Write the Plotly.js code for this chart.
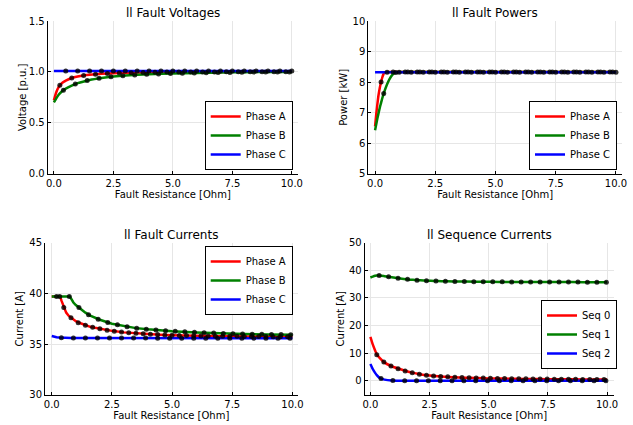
<!DOCTYPE html>
<html><head><meta charset="utf-8">
<script src="https://cdn.plot.ly/plotly-3.0.1.min.js"></script>
<style>html,body{margin:0;padding:0;background:#fff;}#chart{width:633px;height:425px;}</style>
</head><body><div id="chart"></div>
<script>
// ---------- Data ----------
const xTickVals = [0, 2.5, 5, 7.5, 10];
const xTickText = ['0.0', '2.5', '5.0', '7.5', '10.0'];

// Voltages
const vX = [0, 0.1, 0.2, 0.3, 0.4, 0.5, 0.75, 1, 1.25, 1.5, 2, 2.5, 3, 4, 5, 6, 7, 8, 9, 10];
const vA = [0.72, 0.80, 0.85, 0.88, 0.90, 0.915, 0.94, 0.955, 0.965, 0.972, 0.981, 0.987, 0.991, 0.995, 0.998, 1.0, 1.0, 1.001, 1.001, 1.002];
const vB = [0.70, 0.74, 0.775, 0.80, 0.82, 0.835, 0.865, 0.89, 0.905, 0.92, 0.94, 0.955, 0.965, 0.977, 0.985, 0.99, 0.994, 0.997, 0.999, 1.0];
const vC = [1.01, 1.01, 1.01, 1.01, 1.01, 1.01, 1.01, 1.01, 1.01, 1.01, 1.01, 1.01, 1.01, 1.01, 1.01, 1.01, 1.01, 1.01, 1.01, 1.01];
const vAmX = [0.25, 0.75, 1.25, 1.75, 2.25, 2.75, 3.25, 3.75, 4.25, 4.75, 5.25, 5.75, 6.25, 6.75, 7.25, 7.75, 8.25, 8.75, 9.25, 9.75];
const vAmY = [0.87, 0.94, 0.965, 0.978, 0.984, 0.989, 0.992, 0.994, 0.996, 0.998, 0.999, 1.0, 1.0, 1.0, 1.001, 1.001, 1.001, 1.002, 1.002, 1.002];
const vBmX = [0.4, 0.9, 1.4, 1.9, 2.4, 2.9, 3.4, 3.9, 4.4, 4.9, 5.4, 5.9, 6.4, 6.9, 7.4, 7.9, 8.4, 8.9, 9.4, 9.9];
const vBmY = [0.82, 0.88, 0.915, 0.937, 0.952, 0.962, 0.97, 0.976, 0.98, 0.984, 0.987, 0.99, 0.992, 0.994, 0.995, 0.997, 0.998, 0.999, 1.0, 1.0];
const vCmX = [0.5, 1, 1.5, 2, 2.5, 3, 3.5, 4, 4.5, 5, 5.5, 6, 6.5, 7, 7.5, 8, 8.5, 9, 9.5, 10];
const vCmY = [1.01, 1.01, 1.01, 1.01, 1.01, 1.01, 1.01, 1.01, 1.01, 1.01, 1.01, 1.01, 1.01, 1.01, 1.01, 1.01, 1.01, 1.01, 1.01, 1.01];

// Powers
const pX = [0, 0.05, 0.1, 0.15, 0.2, 0.25, 0.3, 0.35, 0.4, 0.5, 0.6, 0.7, 0.8, 0.9, 1.0, 2, 3, 4, 5, 6, 7, 8, 9, 10];
const pA = [6.55, 6.95, 7.3, 7.6, 7.82, 8.0, 8.15, 8.26, 8.32, 8.33, 8.33, 8.33, 8.33, 8.33, 8.33, 8.33, 8.33, 8.33, 8.33, 8.33, 8.33, 8.33, 8.33, 8.33];
const pB = [6.42, 6.62, 6.82, 7.0, 7.17, 7.32, 7.47, 7.6, 7.72, 7.93, 8.1, 8.22, 8.29, 8.32, 8.33, 8.33, 8.33, 8.33, 8.33, 8.33, 8.33, 8.33, 8.33, 8.33];
const pC = [8.32, 8.32, 8.32, 8.32, 8.32, 8.32, 8.32, 8.32, 8.32, 8.32, 8.32, 8.32, 8.32, 8.32, 8.32, 8.32, 8.32, 8.32, 8.32, 8.32, 8.32, 8.32, 8.32, 8.32];
const pAmX = [0.25, 0.75, 1.25, 1.75, 2.25, 2.75, 3.25, 3.75, 4.25, 4.75, 5.25, 5.75, 6.25, 6.75, 7.25, 7.75, 8.25, 8.75, 9.25, 9.75];
const pAmY = [8.0, 8.33, 8.33, 8.33, 8.33, 8.33, 8.33, 8.33, 8.33, 8.33, 8.33, 8.33, 8.33, 8.33, 8.33, 8.33, 8.33, 8.33, 8.33, 8.33];
const pBmX = [0.36, 0.86, 1.36, 1.86, 2.36, 2.86, 3.36, 3.86, 4.36, 4.86, 5.36, 5.86, 6.36, 6.86, 7.36, 7.86, 8.36, 8.86, 9.36, 9.86];
const pBmY = [7.63, 8.31, 8.33, 8.33, 8.33, 8.33, 8.33, 8.33, 8.33, 8.33, 8.33, 8.33, 8.33, 8.33, 8.33, 8.33, 8.33, 8.33, 8.33, 8.33];
const pCmX = [0.5, 1, 1.5, 2, 2.5, 3, 3.5, 4, 4.5, 5, 5.5, 6, 6.5, 7, 7.5, 8, 8.5, 9, 9.5, 10];
const pCmY = [8.32, 8.32, 8.32, 8.32, 8.32, 8.32, 8.32, 8.32, 8.32, 8.32, 8.32, 8.32, 8.32, 8.32, 8.32, 8.32, 8.32, 8.32, 8.32, 8.32];

// Currents
const cX = [0, 0.1, 0.2, 0.3, 0.35, 0.4, 0.5, 0.6, 0.7, 0.75, 0.8, 0.9, 1.0, 1.2, 1.4, 1.6, 1.8, 2.0, 2.5, 3, 3.5, 4, 4.5, 5, 6, 7, 8, 9, 10];
const cA = [39.7, 39.7, 39.7, 39.7, 39.7, 39.3, 38.6, 38.1, 37.8, 37.7, 37.6, 37.4, 37.25, 37.05, 36.85, 36.7, 36.6, 36.5, 36.3, 36.15, 36.05, 35.98, 35.92, 35.87, 35.8, 35.77, 35.75, 35.73, 35.72];
const cB = [39.7, 39.7, 39.7, 39.7, 39.7, 39.7, 39.7, 39.7, 39.7, 39.7, 39.5, 39.1, 38.85, 38.45, 38.1, 37.8, 37.6, 37.4, 37.0, 36.75, 36.57, 36.45, 36.35, 36.27, 36.15, 36.05, 35.99, 35.95, 35.92];
const cC = [35.8, 35.72, 35.67, 35.64, 35.63, 35.62, 35.61, 35.6, 35.6, 35.6, 35.6, 35.6, 35.6, 35.6, 35.6, 35.6, 35.6, 35.59, 35.59, 35.59, 35.59, 35.58, 35.58, 35.58, 35.58, 35.57, 35.57, 35.57, 35.57];
const cAmX = [0.2, 0.5, 0.8, 1.1, 1.4, 1.7, 2.0, 2.3, 2.6, 2.9, 3.2, 3.5, 3.8, 4.1, 4.4, 4.7, 5.0, 5.3, 5.6, 5.9, 6.2, 6.5, 6.8, 7.1, 7.4, 7.7, 8.0, 8.3, 8.6, 8.9, 9.2, 9.5, 9.8];
const cAmY = [39.7, 38.6, 37.6, 37.1, 36.85, 36.65, 36.5, 36.37, 36.27, 36.18, 36.12, 36.06, 36.01, 35.97, 35.93, 35.9, 35.87, 35.85, 35.83, 35.81, 35.8, 35.79, 35.78, 35.77, 35.76, 35.76, 35.75, 35.75, 35.74, 35.74, 35.73, 35.73, 35.72];
const cBmX = [0.33, 0.73, 1.13, 1.53, 1.93, 2.33, 2.73, 3.13, 3.53, 3.93, 4.33, 4.73, 5.13, 5.53, 5.93, 6.33, 6.73, 7.13, 7.53, 7.93, 8.33, 8.73, 9.13, 9.53, 9.93];
const cBmY = [39.7, 39.7, 38.6, 37.9, 37.45, 37.13, 36.9, 36.7, 36.56, 36.46, 36.38, 36.31, 36.25, 36.2, 36.16, 36.12, 36.08, 36.04, 36.01, 35.99, 35.97, 35.96, 35.95, 35.93, 35.92];
const cCmX = [0.4, 0.9, 1.4, 1.9, 2.4, 2.9, 3.4, 3.9, 4.4, 4.9, 5.4, 5.9, 6.4, 6.9, 7.4, 7.9, 8.4, 8.9, 9.4, 9.9];
const cCmY = [35.62, 35.6, 35.6, 35.6, 35.59, 35.59, 35.59, 35.59, 35.58, 35.58, 35.58, 35.58, 35.58, 35.58, 35.57, 35.57, 35.57, 35.57, 35.57, 35.57];

// Sequence currents
const sX = [0, 0.1, 0.2, 0.27, 0.4, 0.6, 0.9, 1.2, 1.5, 1.8, 2.1, 2.4, 2.7, 3, 3.5, 4, 5, 6, 7, 8, 9, 10];
const s0 = [15.9, 13.2, 11.0, 9.6, 8.2, 6.6, 5.3, 4.4, 3.6, 2.9, 2.4, 2.0, 1.75, 1.55, 1.3, 1.12, 0.9, 0.75, 0.65, 0.58, 0.52, 0.48];
const s1 = [37.4, 37.75, 38.05, 38.15, 38.15, 37.9, 37.5, 37.1, 36.8, 36.55, 36.4, 36.27, 36.15, 36.08, 36.0, 35.95, 35.85, 35.8, 35.77, 35.75, 35.73, 35.72];
const s2 = [6.1, 4.3, 2.9, 2.1, 1.0, 0.45, 0.12, 0.05, 0.03, 0.02, 0.02, 0.02, 0.01, 0.01, 0.01, 0.01, 0.01, 0.01, 0.01, 0.01, 0.01, 0.01];
const s0mX = [0.27, 0.57, 0.87, 1.17, 1.47, 1.77, 2.07, 2.37, 2.67, 2.97, 3.27, 3.57, 3.87, 4.17, 4.47, 4.77, 5.07, 5.37, 5.67, 5.97, 6.27, 6.57, 6.87, 7.17, 7.47, 7.77, 8.07, 8.37, 8.67, 8.97, 9.27, 9.57, 9.87];
const s0mY = [9.5, 6.8, 5.4, 4.4, 3.6, 2.9, 2.4, 2.0, 1.75, 1.58, 1.45, 1.33, 1.22, 1.13, 1.06, 1.0, 0.94, 0.89, 0.85, 0.8, 0.77, 0.73, 0.7, 0.67, 0.64, 0.62, 0.6, 0.58, 0.56, 0.54, 0.52, 0.5, 0.49];
const s1mX = [0.37, 0.77, 1.17, 1.57, 1.97, 2.37, 2.77, 3.17, 3.57, 3.97, 4.37, 4.77, 5.17, 5.57, 5.97, 6.37, 6.77, 7.17, 7.57, 7.97, 8.37, 8.77, 9.17, 9.57, 9.97];
const s1mY = [38.15, 37.7, 37.15, 36.75, 36.45, 36.27, 36.12, 36.04, 35.98, 35.94, 35.9, 35.87, 35.85, 35.83, 35.81, 35.8, 35.79, 35.78, 35.77, 35.76, 35.75, 35.74, 35.73, 35.73, 35.72];
const s2mX = [0.45, 0.95, 1.45, 1.95, 2.45, 2.95, 3.45, 3.95, 4.45, 4.95, 5.45, 5.95, 6.45, 6.95, 7.45, 7.95, 8.45, 8.95, 9.45, 9.95];
const s2mY = [0.9, 0.1, 0.04, 0.03, 0.02, 0.02, 0.02, 0.01, 0.01, 0.01, 0.01, 0.01, 0.01, 0.01, 0.01, 0.01, 0.01, 0.01, 0.01, 0.01];

const phaseNames = ['Phase A', 'Phase B', 'Phase C'];
const seqNames = ['Seq 0', 'Seq 1', 'Seq 2'];
const colors = ['#ff0000', '#008000', '#0000ff'];

// ---------- Traces ----------
const FONT = 'DejaVu Sans, sans-serif';
function line(x, y, ci, name, n, leg) {
  return {type: 'scatter', mode: 'lines', x: x, y: y, name: name,
    xaxis: 'x' + (n === 1 ? '' : n), yaxis: 'y' + (n === 1 ? '' : n),
    legend: leg, line: {color: colors[ci], width: 2.5, shape: 'spline', smoothing: 0.6},
    hoverinfo: 'skip'};
}
function marks(x, y, n) {
  return {type: 'scatter', mode: 'markers', x: x, y: y, showlegend: false,
    xaxis: 'x' + (n === 1 ? '' : n), yaxis: 'y' + (n === 1 ? '' : n),
    marker: {color: 'rgba(0,0,0,0.8)', size: 5}, hoverinfo: 'skip'};
}
function straight(t) { t.line.shape = 'linear'; return t; }

const data = [
  line(vX, vA, 0, phaseNames[0], 1, 'legend'),
  line(vX, vB, 1, phaseNames[1], 1, 'legend'),
  line(vX, vC, 2, phaseNames[2], 1, 'legend'),
  marks(vAmX, vAmY, 1), marks(vBmX, vBmY, 1), marks(vCmX, vCmY, 1),

  line(pX, pA, 0, phaseNames[0], 2, 'legend2'),
  line(pX, pB, 1, phaseNames[1], 2, 'legend2'),
  line(pX, pC, 2, phaseNames[2], 2, 'legend2'),
  marks(pAmX, pAmY, 2), marks(pBmX, pBmY, 2), marks(pCmX, pCmY, 2),

  straight(line(cX, cA, 0, phaseNames[0], 3, 'legend3')),
  straight(line(cX, cB, 1, phaseNames[1], 3, 'legend3')),
  straight(line(cX, cC, 2, phaseNames[2], 3, 'legend3')),
  marks(cAmX, cAmY, 3), marks(cBmX, cBmY, 3), marks(cCmX, cCmY, 3),

  line(sX, s0, 0, seqNames[0], 4, 'legend4'),
  line(sX, s1, 1, seqNames[1], 4, 'legend4'),
  line(sX, s2, 2, seqNames[2], 4, 'legend4'),
  marks(s0mX, s0mY, 4), marks(s1mX, s1mY, 4), marks(s2mX, s2mY, 4)
];

// ---------- Layout ----------
const W = 633, H = 425;
const tickFont = {family: FONT, size: 10, color: '#000'};
function xax(l, r, range, anchor) {
  return {domain: [l / W, r / W], range: range, anchor: anchor,
    tickvals: xTickVals, ticktext: xTickText, tickfont: tickFont,
    showline: true, linecolor: '#000', linewidth: 1, showgrid: true, gridcolor: '#e6e6e6', gridwidth: 1,
    zeroline: false, ticks: 'inside', ticklen: 3, tickcolor: '#000', automargin: false, fixedrange: true,
    title: {text: 'Fault Resistance [Ohm]', font: {family: FONT, size: 10, color: '#000'}, standoff: 3}};
}
function yax(t, b, range, tv, tt, anchor, title, so) {
  return {domain: [1 - b / H, 1 - t / H], range: range, anchor: anchor,
    tickvals: tv, ticktext: tt, tickfont: tickFont,
    showline: true, linecolor: '#000', linewidth: 1, showgrid: true, gridcolor: '#e6e6e6', gridwidth: 1,
    zeroline: false, ticks: 'inside', ticklen: 3, tickcolor: '#000', automargin: false, fixedrange: true,
    title: {text: title, font: {family: FONT, size: 10, color: '#000'}, standoff: so}};
}
function leg(x, y, ya) {
  return {x: x, y: y, xanchor: 'right', yanchor: ya, xref: 'paper', yref: 'paper',
    bgcolor: '#fff', bordercolor: '#000', borderwidth: 1,
    font: {family: FONT, size: 10, color: '#000'}, itemwidth: 30, tracegroupgap: 0};
}
function ttl(text, x, y) {
  return {text: text, x: x / W, y: 1 - y / H, xref: 'paper', yref: 'paper',
    xanchor: 'center', yanchor: 'middle', showarrow: false,
    font: {family: FONT, size: 12, color: '#000'}};
}

const layout = {
  width: W, height: H, margin: {l: 0, r: 0, t: 0, b: 0},
  paper_bgcolor: '#fff', plot_bgcolor: '#fff', showlegend: true,
  xaxis:  xax(47.7, 298, [-0.26, 10.26], 'y'),
  yaxis:  yax(21, 173.7, [0, 1.5], [0, 0.5, 1, 1.5], ['0.0', '0.5', '1.0', '1.5'], 'x', 'Voltage [p.u.]', 0),
  xaxis2: xax(368.3, 622, [-0.28, 10.25], 'y2'),
  yaxis2: yax(21, 173.7, [5, 10], [5, 6, 7, 8, 9, 10], ['5', '6', '7', '8', '9', '10'], 'x2', 'Power [kW]', 3),
  xaxis3: xax(45, 297.7, [-0.28, 10.22], 'y3'),
  yaxis3: yax(242.7, 394.7, [30, 45], [30, 35, 40, 45], ['30', '35', '40', '45'], 'x3', 'Current [A]', 3),
  xaxis4: xax(364.7, 613.7, [-0.24, 10.28], 'y4'),
  yaxis4: yax(242.7, 394.7, [-5, 50], [0, 10, 20, 30, 40, 50], ['0', '10', '20', '30', '40', '50'], 'x4', 'Current [A]', 2),
  legend:  leg(292.7 / W, 1 - 170 / H, 'bottom'),
  legend2: leg(617 / W, 1 - 170 / H, 'bottom'),
  legend3: leg(292.7 / W, 1 - 246 / H, 'top'),
  legend4: leg(617 / W, 1 - 300 / H, 'top'),
  annotations: [
    ttl('ll Fault Voltages', 172.8, 13.5),
    ttl('ll Fault Powers', 495, 13.5),
    ttl('ll Fault Currents', 171.3, 234.5),
    ttl('ll Sequence Currents', 489, 234.5)
  ]
};

Plotly.newPlot('chart', data, layout, {staticPlot: true, displayModeBar: false});
</script></body></html>
